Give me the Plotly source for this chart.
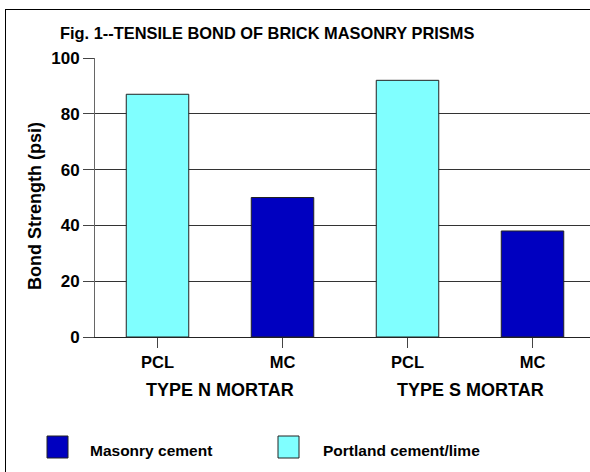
import plotly.graph_objects as go

categories = ["PCL", "MC", "PCL", "MC"]
groups = ["TYPE N MORTAR", "TYPE S MORTAR"]
values = [87, 50, 92, 38]
mortar_kind = ["Portland cement/lime", "Masonry cement", "Portland cement/lime", "Masonry cement"]
y_ticks = [0, 20, 40, 60, 80, 100]
title_text = "Fig. 1--TENSILE BOND OF BRICK MASONRY PRISMS"
y_title = "Bond Strength (psi)"
legend_items = ["Masonry cement", "Portland cement/lime"]

W, H = 590, 472
L, R, T, B = 95, 0, 58, 135
PW, PH = W - L - R, H - T - B
FONT = "Liberation Sans, Arial, sans-serif"
colors = {"Masonry cement": "#0000C0", "Portland cement/lime": "#80FFFF"}


def px(x):
    return (x - L) / PW


def py(y):
    return (H - B - y) / PH


x_pos = list(range(len(categories)))
fig = go.Figure()
fig.add_trace(go.Bar(
    x=x_pos, y=values, width=0.5,
    marker=dict(color=[colors[k] for k in mortar_kind], line=dict(color="#222222", width=1)),
    showlegend=False, hoverinfo="skip",
))

fig.update_layout(
    width=W, height=H,
    margin=dict(l=L, r=R, t=T, b=B),
    paper_bgcolor="white", plot_bgcolor="white",
    font=dict(family=FONT, size=17, color="black"),
    xaxis=dict(
        range=[-0.5, -0.5 + PW / 125.0],
        tickvals=x_pos, ticktext=categories,
        ticks="outside", ticklen=10, tickcolor="#444", tickwidth=1,
        showline=True, linecolor="#222", linewidth=1,
        showgrid=False, zeroline=False,
        tickfont=dict(family=FONT, size=16.5, color="black", weight="bold"),
    ),
    yaxis=dict(
        range=[0, 100], tickvals=y_ticks,
        ticks="outside", ticklen=11, tickcolor="#444", tickwidth=1,
        showline=True, linecolor="#666", linewidth=1,
        showgrid=True, gridcolor="#333", gridwidth=1,
        zeroline=False,
        tickfont=dict(family=FONT, size=17, color="black", weight="bold"),
    ),
)

annotations = []
annotations.append(dict(text=title_text, x=px(267), y=py(33), xref="paper", yref="paper",
                        showarrow=False, xanchor="center", yanchor="middle",
                        font=dict(family=FONT, size=16.4, color="black", weight="bold")))
annotations.append(dict(text=y_title, x=px(35), y=py(206), xref="paper", yref="paper",
                        showarrow=False, xanchor="center", yanchor="middle", textangle=-90,
                        font=dict(family=FONT, size=18, color="black", weight="bold")))
for i, g in enumerate(groups):
    annotations.append(dict(text=g, x=2 * i + 0.5, y=py(390), xref="x", yref="paper",
                            showarrow=False, xanchor="center", yanchor="middle",
                            font=dict(family=FONT, size=18, color="black", weight="bold")))

shapes = []
# outer frame: top and left edges (right and bottom fall outside the picture)
shapes.append(dict(type="line", xref="paper", yref="paper",
                   x0=px(5), x1=px(W), y0=py(9.5), y1=py(9.5),
                   line=dict(color="black", width=1)))
shapes.append(dict(type="line", xref="paper", yref="paper",
                   x0=px(5.5), x1=px(5.5), y0=py(9), y1=py(H),
                   line=dict(color="black", width=1)))
# legend
leg_sw_x = [47, 278]
leg_tx_x = [88, 321]
for item, sx, tx in zip(legend_items, leg_sw_x, leg_tx_x):
    shapes.append(dict(type="rect", xref="paper", yref="paper",
                       x0=px(sx), x1=px(sx + 21), y0=py(458), y1=py(436),
                       line=dict(color="#222", width=1), fillcolor=colors[item]))
    annotations.append(dict(text=item, x=px(tx), y=py(450), xref="paper", yref="paper",
                            showarrow=False, xanchor="left", yanchor="middle",
                            font=dict(family=FONT, size=15.5, color="black", weight="bold")))

fig.update_layout(annotations=annotations, shapes=shapes)
fig.write_html(
    "out.html",
    config={"displayModeBar": False, "staticPlot": True},
    post_script=(
        "document.documentElement.style.margin='0';"
        "document.documentElement.style.padding='0';"
        "document.documentElement.style.overflow='hidden';"
        "document.body.style.margin='0';"
        "document.body.style.padding='0';"
        "document.body.style.overflow='hidden';"
    ),
)
